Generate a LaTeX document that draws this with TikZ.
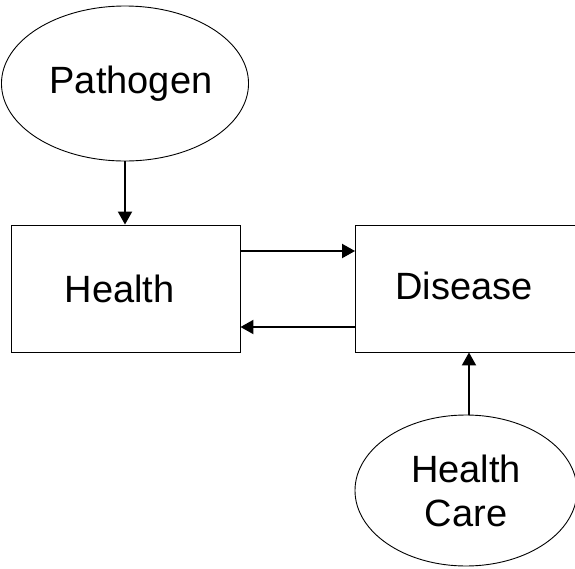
\documentclass[tikz,border=0pt]{standalone}
\usepackage{fontspec}
\setmainfont{Liberation Sans}
\usetikzlibrary{shapes.geometric,arrows.meta}
\tikzset{
	statebox/.style={draw=black, line width=0.45pt, rectangle, inner sep=0pt,
		minimum width=114.5pt, minimum height=63.5pt, font=\fontsize{19}{22}\selectfont},
	causeoval/.style={draw=black, line width=0.45pt, ellipse, inner sep=0pt,
		align=center, font=\fontsize{19}{22}\selectfont},
	flowarrow/.style={line width=1pt, -{Triangle[length=6.5pt,width=7pt]}}
}

\begin{document}
\begin{tikzpicture}[x=0.5pt,y=-0.5pt]
	% Fixed white canvas with the picture's proportions.
	\path[use as bounding box] (0,0) rectangle (575,569);
	\fill[white] (0,0) rectangle (575,569);
	\clip (0,0) rectangle (575,569);

	% The two states (labels sit a little left of centre, as drawn).
	\node[statebox] (health) at (125.5,288.5) {Health\hspace{6pt}\mbox{}};
	\node[statebox] (disease) at (470,288.5) {\raisebox{3pt}{Disease}\hspace{6pt}\mbox{}};

	% Outside influences.
	\node[causeoval, minimum width=114pt, minimum height=77.5pt] (pathogen) at (125,83.5) {\hspace{6pt}Pathogen};
	\node[causeoval, minimum width=111pt, minimum height=75.5pt] (care) at (466,490.5) {Health\\Care};

	% Transitions between the states.
	\draw[flowarrow] ([yshift=18.75pt]health.east) -- ([yshift=18.75pt]disease.west);
	\draw[flowarrow] ([yshift=-19.25pt]disease.west) -- ([yshift=-19.25pt]health.east);

	% Influences on the states.
	\draw[flowarrow] (pathogen.south) -- (pathogen.south |- health.north);
	\draw[flowarrow] ([xshift=1.5pt]care.north) -- ([xshift=1.5pt]care.north |- disease.south);
\end{tikzpicture}
\end{document}
